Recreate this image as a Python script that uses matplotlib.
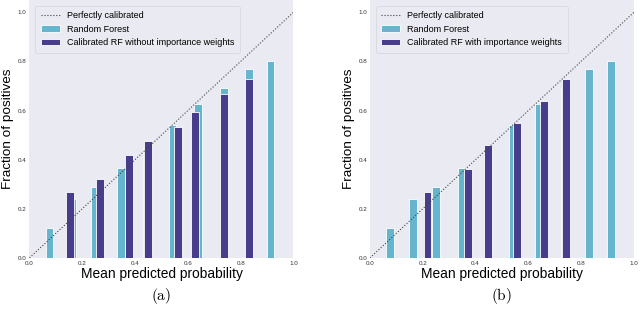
import numpy as np
import matplotlib
matplotlib.use('Agg')
import matplotlib.pyplot as plt

# Random Forest (same in both panels)
rf_x = [0.076, 0.162, 0.249, 0.347, 0.446, 0.542, 0.640, 0.738, 0.831, 0.913]
rf_y = [0.121, 0.240, 0.290, 0.365, 0.450, 0.540, 0.626, 0.693, 0.770, 0.800]

# Calibrated RF without importance weights (panel a)
cal_a_x = [0.152, 0.266, 0.378, 0.450, 0.564, 0.628, 0.738, 0.831]
cal_a_y = [0.267, 0.320, 0.418, 0.474, 0.532, 0.593, 0.666, 0.727]

# Calibrated RF with importance weights (panel b)
cal_b_x = [0.218, 0.371, 0.447, 0.558, 0.661, 0.743]
cal_b_y = [0.267, 0.362, 0.459, 0.549, 0.640, 0.727]

ticks = [0.0, 0.2, 0.4, 0.6, 0.8, 1.0]
labels_cal = ['Calibrated RF without importance weights',
              'Calibrated RF with importance weights']
captions = ['(a)', '(b)']

cyan = '#64b5cd'
dark = '#483d8b'
bg = '#eaeaf2'

plt.rcParams['font.family'] = ['Liberation Sans', 'DejaVu Sans']
plt.rcParams['mathtext.fontset'] = 'cm'

fig = plt.figure(figsize=(6.4, 3.13), dpi=100)
ax_a = fig.add_axes([0.046, 0.176, 0.4125, 0.824])
ax_b = fig.add_axes([0.578, 0.176, 0.4125, 0.824])

panels = [(ax_a, cal_a_x, cal_a_y), (ax_b, cal_b_x, cal_b_y)]
for i, (ax, cx, cy) in enumerate(panels):
    ax.set_facecolor(bg)
    for s in ax.spines.values():
        s.set_visible(False)
    ax.plot([0, 1], [0, 1], ':', color='#444444', lw=0.8, label='Perfectly calibrated', zorder=3)
    ax.bar(rf_x, rf_y, width=0.03, color=cyan, edgecolor='white', linewidth=0.6,
           label='Random Forest', zorder=1)
    ax.bar(cx, cy, width=0.03, color=dark, edgecolor='white', linewidth=0.6,
           label=labels_cal[i], zorder=2)
    ax.set_xlim(0, 1)
    ax.set_ylim(0, 1.05)
    ax.set_xticks(ticks)
    ax.set_yticks(ticks)
    ax.tick_params(labelsize=4.5, length=0, pad=2, colors='#333333')
    ax.set_xlabel('Mean predicted probability', fontsize=9.9, labelpad=1)
    ax.set_ylabel('Fraction of positives', fontsize=9.7, labelpad=2.5)
    leg = ax.legend(loc='upper left', fontsize=6.5, frameon=True, facecolor=bg,
                    edgecolor='#d8d8e0', framealpha=1, borderpad=0.6,
                    handlelength=2.1, labelspacing=0.5, bbox_to_anchor=(0.005, 0.995))
    leg.get_frame().set_linewidth(0.6)
    ax.text(0.5, -0.11, r'$\mathrm{' + captions[i] + '}$', transform=ax.transAxes,
            ha='center', va='top', fontsize=11)

fig.savefig('out.png', dpi=100)
